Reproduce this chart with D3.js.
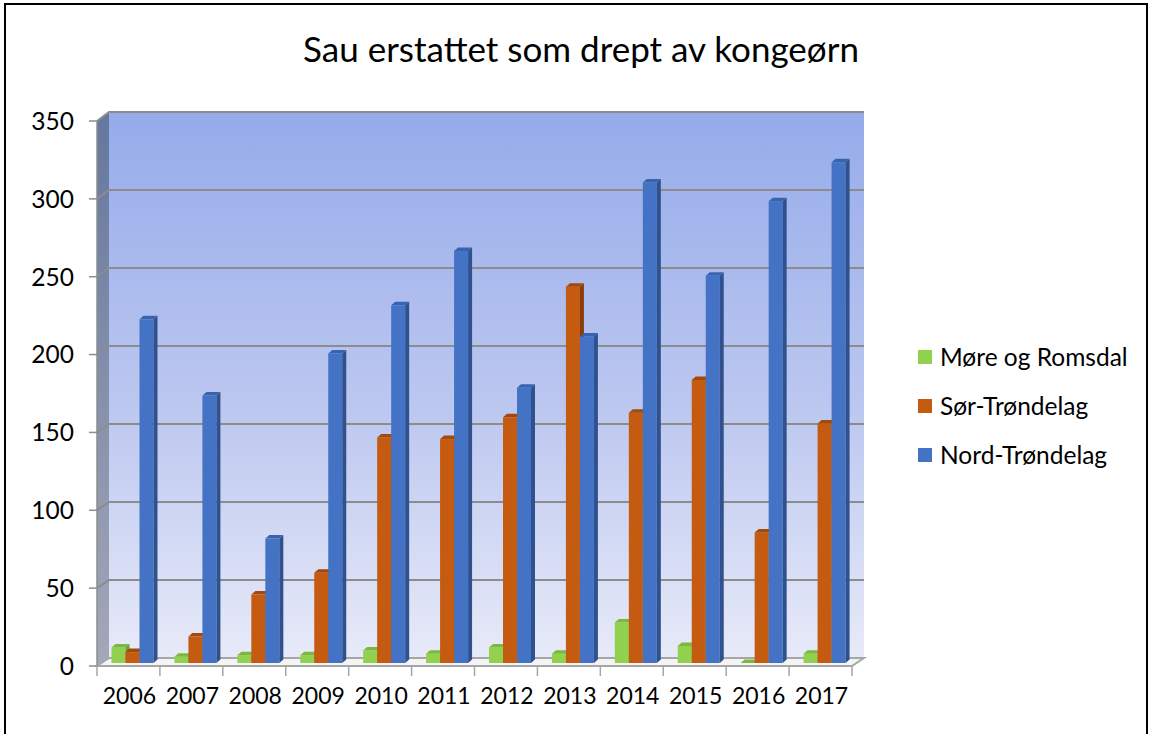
<!DOCTYPE html>
<html>
<head>
<meta charset="utf-8">
<title>Sau erstattet som drept av kongeørn</title>
<style>
  body { margin: 0; background: #fff; }
  svg { display: block; font-family: Lato, "Open Sans", sans-serif; }
</style>
</head>
<body>
<svg></svg>
<script src="https://d3js.org/d3.v7.min.js"></script>
<script>
// data
var years = ["2006","2007","2008","2009","2010","2011","2012","2013","2014","2015","2016","2017"];
var seriesNames = ["Møre og Romsdal", "Sør-Trøndelag", "Nord-Trøndelag"];
var moreRomsdal = [10, 4, 5, 5, 8, 6, 10, 6, 26, 11, 0, 6];
var sorTrondelag = [7, 17, 44, 58, 145, 144, 158, 242, 161, 182, 84, 154];
var nordTrondelag = [221, 172, 80, 199, 230, 265, 177, 210, 309, 249, 297, 322];
var yTicks = [0, 50, 100, 150, 200, 250, 300, 350];

var seriesValues = [moreRomsdal, sorTrondelag, nordTrondelag];
var front = ["#92d050", "#c55a11", "#4472c4"];
var top_ = ["#7cb83c", "#a3490c", "#3a63ae"];
var side = ["#6b9e33", "#8a3c09", "#2f528f"];

var W = 1152, H = 734;
var svg = d3.select("svg").attr("width", W).attr("height", H);

// border
svg.append("rect").attr("x", 5).attr("y", 4).attr("width", 1142).attr("height", 760)
  .attr("fill", "none").attr("stroke", "#000").attr("stroke-width", 2);

// title
svg.append("text").attr("x", 581).attr("y", 62).attr("text-anchor", "middle")
  .attr("font-size", 35).attr("fill", "#000").text("Sau erstattet som drept av kongeørn");

// 3d geometry
var fx0 = 97, fx1 = 852;       // front plane left/right
var ox = 12;                    // back wall offset
var yFront = d3.scaleLinear().domain([0, 350]).range([666, 121]);
var yBack = d3.scaleLinear().domain([0, 350]).range([658, 112]);
var yBar = d3.scaleLinear().domain([0, 350]).range([663, 663 - 350 * 1.555]);
var x = d3.scaleBand().domain(years).range([fx0, fx1]);

var defs = svg.append("defs");
var g1 = defs.append("linearGradient").attr("id", "wall").attr("x1", 0).attr("y1", 0).attr("x2", 0).attr("y2", 1);
g1.append("stop").attr("offset", "0%").attr("stop-color", "#95abea");
g1.append("stop").attr("offset", "55%").attr("stop-color", "#bdc8f0");
g1.append("stop").attr("offset", "100%").attr("stop-color", "#e7eaf8");
var g2 = defs.append("linearGradient").attr("id", "sidewall").attr("x1", 0).attr("y1", 0).attr("x2", 0).attr("y2", 1);
g2.append("stop").attr("offset", "0%").attr("stop-color", "#65779f");
g2.append("stop").attr("offset", "100%").attr("stop-color", "#a4a8b8");

// back wall
svg.append("rect").attr("x", fx0 + ox).attr("y", yBack(350))
  .attr("width", fx1 - fx0).attr("height", yBack(0) - yBack(350))
  .attr("fill", "url(#wall)");

// side wall
svg.append("polygon")
  .attr("points", [[fx0, yFront(350)], [fx0 + ox, yBack(350)], [fx0 + ox, yBack(0)], [fx0, yFront(0)]].join(" "))
  .attr("fill", "url(#sidewall)");

// gridlines
yTicks.filter(function(t) { return t > 0; }).forEach(function(t) {
  svg.append("polyline")
    .attr("points", [[fx0, yFront(t)], [fx0 + ox, yBack(t)], [fx1 + ox, yBack(t)]].join(" "))
    .attr("fill", "none").attr("stroke", "#8c8c8c").attr("stroke-width", 2);
});

// floor
svg.append("polygon")
  .attr("points", [[fx0, yFront(0)], [fx0 + ox, yBack(0)], [fx1 + ox, yBack(0)], [fx1, yFront(0)]].join(" "))
  .attr("fill", "#f4f4f4").attr("stroke", "#a6a6a6").attr("stroke-width", 2);

// y axis ticks and labels
var yAxis = svg.append("g");
yTicks.forEach(function(t) {
  yAxis.append("line").attr("x1", fx0 - 8).attr("x2", fx0).attr("y1", yFront(t)).attr("y2", yFront(t))
    .attr("stroke", "#8c8c8c").attr("stroke-width", 1.5);
  yAxis.append("text").attr("x", 74).attr("y", yFront(t)).attr("dy", "0.36em")
    .attr("text-anchor", "end").attr("font-size", 24.5).attr("fill", "#000").text(t);
});
yAxis.append("line").attr("x1", fx0).attr("x2", fx0).attr("y1", yFront(350)).attr("y2", yFront(0))
  .attr("stroke", "#8c8c8c").attr("stroke-width", 1.5);

// x axis
var xAxis = svg.append("g");
xAxis.append("line").attr("x1", fx0).attr("x2", fx1).attr("y1", yFront(0)).attr("y2", yFront(0))
  .attr("stroke", "#a6a6a6").attr("stroke-width", 2);
years.forEach(function(y, i) {
  xAxis.append("line").attr("x1", x(y)).attr("x2", x(y)).attr("y1", yFront(0)).attr("y2", yFront(0) + 10)
    .attr("stroke", "#a6a6a6").attr("stroke-width", 1.5);
  xAxis.append("text").attr("x", x(y) + x.bandwidth() / 2 + 1).attr("y", 704)
    .attr("text-anchor", "middle").attr("font-size", 23).attr("fill", "#000").text(y);
});
xAxis.append("line").attr("x1", fx1).attr("x2", fx1).attr("y1", yFront(0)).attr("y2", yFront(0) + 10)
  .attr("stroke", "#a6a6a6").attr("stroke-width", 1.5);

// bars
var bw = 14, dx = 4, dy = 3.5, groupOffset = 14.5;
var bars = svg.append("g");
years.forEach(function(y, i) {
  seriesValues.forEach(function(vals, s) {
    var x0 = x(y) + groupOffset + s * bw;
    var yt = yBar(vals[i]), yb = yBar(0);
    var g = bars.append("g");
    g.append("rect").attr("x", x0).attr("y", yt).attr("width", bw).attr("height", yb - yt)
      .attr("fill", front[s]);
    g.append("polygon")
      .attr("points", [[x0, yt], [x0 + dx, yt - dy], [x0 + bw + dx, yt - dy], [x0 + bw, yt]].join(" "))
      .attr("fill", top_[s]);
    g.append("polygon")
      .attr("points", [[x0 + bw, yt], [x0 + bw + dx, yt - dy], [x0 + bw + dx, yb - dy], [x0 + bw, yb]].join(" "))
      .attr("fill", side[s]);
  });
});

// legend
var legend = svg.append("g");
seriesNames.forEach(function(n, i) {
  var cy = 357 + i * 49;
  legend.append("rect").attr("x", 918).attr("y", cy - 7).attr("width", 14).attr("height", 14).attr("fill", front[i]);
  legend.append("text").attr("x", 940).attr("y", cy).attr("dy", "0.36em")
    .attr("font-size", 24.5).attr("fill", "#000").text(n);
});
</script>
</body>
</html>
